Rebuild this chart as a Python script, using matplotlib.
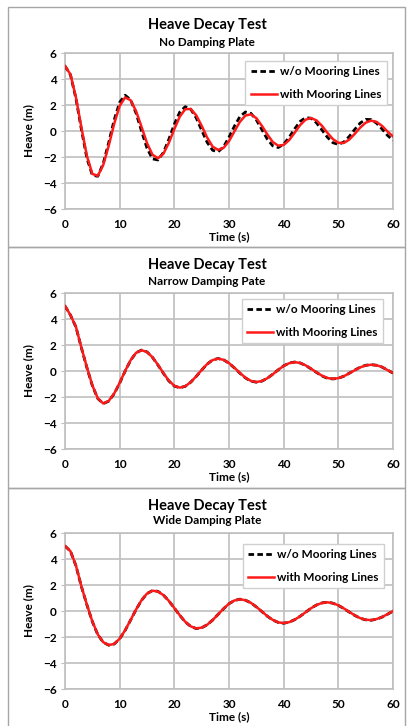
import matplotlib
matplotlib.use("Agg")
import matplotlib.pyplot as plt
from matplotlib.patches import Rectangle

plt.rcParams['font.family'] = ['Lato', 'DejaVu Sans']
plt.rcParams['font.weight'] = 'bold'

# time axis, one sample per second
time_s = list(range(0, 61))

# No damping plate
no_plate_free = [5.00, 4.32, 2.50, 0.12, -2.08, -3.40, -3.48, -2.48, -0.89, 0.86,
                 2.21, 2.75, 2.40, 1.37, -0.01, -1.32, -2.14, -2.23, -1.66, -0.64,
                 0.52, 1.46, 1.87, 1.68, 1.01, 0.06, -0.87, -1.48, -1.60, -1.22,
                 -0.48, 0.38, 1.11, 1.46, 1.36, 0.86, 0.12, -0.62, -1.14, -1.27,
                 -1.02, -0.49, 0.16, 0.73, 1.03, 0.98, 0.63, 0.08, -0.48, -0.90,
                 -1.03, -0.85, -0.42, 0.12, 0.61, 0.89, 0.88, 0.60, 0.15, -0.34,
                 -0.71]
no_plate_moored = [5.00, 4.35, 2.59, 0.27, -1.90, -3.30, -3.45, -2.61, -1.13, 0.56,
                   1.93, 2.58, 2.37, 1.53, 0.32, -0.93, -1.82, -2.10, -1.75, -0.91,
                   0.15, 1.11, 1.68, 1.69, 1.21, 0.40, -0.50, -1.20, -1.45, -1.30,
                   -0.78, -0.02, 0.71, 1.19, 1.28, 0.99, 0.41, -0.26, -0.84, -1.13,
                   -1.07, -0.70, -0.14, 0.45, 0.87, 1.00, 0.82, 0.40, -0.14, -0.62,
                   -0.91, -0.92, -0.66, -0.22, 0.26, 0.64, 0.80, 0.70, 0.39, -0.04,
                   -0.42]

# Narrow damping plate
narrow_free = [5.00, 4.30, 3.38, 1.78, 0.26, -1.13, -2.12, -2.51, -2.32, -1.75,
               -0.93, -0.01, 0.82, 1.40, 1.61, 1.47, 1.05, 0.46, -0.18, -0.77,
               -1.16, -1.29, -1.18, -0.86, -0.42, 0.07, 0.53, 0.85, 0.96, 0.86,
               0.60, 0.23, -0.17, -0.53, -0.78, -0.86, -0.78, -0.56, -0.25, 0.09,
               0.40, 0.61, 0.69, 0.62, 0.43, 0.17, -0.11, -0.38, -0.56, -0.61,
               -0.56, -0.40, -0.17, 0.07, 0.29, 0.44, 0.49, 0.44, 0.30, 0.07,
               -0.16]
narrow_moored = [5.00, 4.30, 3.40, 1.80, 0.30, -1.10, -2.10, -2.50, -2.30, -1.73,
                 -0.91, 0.01, 0.83, 1.40, 1.60, 1.46, 1.06, 0.48, -0.16, -0.74,
                 -1.14, -1.28, -1.17, -0.86, -0.41, 0.08, 0.53, 0.84, 0.95, 0.86,
                 0.61, 0.25, -0.15, -0.51, -0.76, -0.85, -0.77, -0.56, -0.26, 0.09,
                 0.39, 0.60, 0.68, 0.62, 0.44, 0.18, -0.10, -0.36, -0.54, -0.60,
                 -0.55, -0.40, -0.18, 0.06, 0.28, 0.43, 0.48, 0.44, 0.31, 0.07,
                 -0.15]

# Wide damping plate
wide_free = [5.00, 4.60, 3.48, 1.88, 0.48, -0.82, -1.82, -2.41, -2.63, -2.54,
             -2.14, -1.49, -0.70, 0.11, 0.82, 1.34, 1.57, 1.51, 1.22, 0.78,
             0.22, -0.34, -0.84, -1.19, -1.35, -1.29, -1.06, -0.70, -0.26, 0.17,
             0.56, 0.81, 0.91, 0.83, 0.63, 0.31, -0.04, -0.40, -0.69, -0.88,
             -0.94, -0.86, -0.67, -0.41, -0.10, 0.21, 0.46, 0.62, 0.68, 0.60,
             0.43, 0.19, -0.08, -0.34, -0.56, -0.68, -0.71, -0.63, -0.47, -0.25,
             -0.01]
wide_moored = [5.00, 4.60, 3.50, 1.90, 0.50, -0.80, -1.80, -2.40, -2.62, -2.53,
               -2.13, -1.48, -0.69, 0.12, 0.83, 1.34, 1.56, 1.50, 1.22, 0.78,
               0.23, -0.33, -0.83, -1.18, -1.34, -1.28, -1.06, -0.70, -0.26, 0.18,
               0.56, 0.81, 0.90, 0.83, 0.63, 0.32, -0.03, -0.39, -0.68, -0.87,
               -0.93, -0.86, -0.67, -0.41, -0.10, 0.21, 0.46, 0.62, 0.67, 0.60,
               0.44, 0.20, -0.07, -0.33, -0.55, -0.67, -0.70, -0.62, -0.46, -0.24,
               0.00]

subtitles = ["No Damping Plate", "Narrow Damping Pate", "Wide Damping Plate"]
free_series = [no_plate_free, narrow_free, wide_free]
moored_series = [no_plate_moored, narrow_moored, wide_moored]
legend_anchor = [(0.982, 0.949), (0.970, 0.962), (0.973, 0.930)]

W, H = 408, 726
fig = plt.figure(figsize=(W / 100, H / 100), dpi=100)

grid_col = '#bfbfbf'
box_col = '#a6a6a6'

# panel frames (pixel rows of the borders)
for top, bot in [(7, 247), (247, 488), (488, 740)]:
    fig.patches.append(Rectangle((8 / W, 1 - bot / H), (405 - 8) / W, (bot - top) / H,
                                 transform=fig.transFigure, fill=False,
                                 edgecolor=box_col, linewidth=1.0, clip_on=False))

axes_top = [53, 293, 533]
title_y = [25, 265, 506]
sub_y = [42, 281, 521]

for i in range(3):
    top = axes_top[i]
    ax = fig.add_axes([65 / W, 1 - (top + 156) / H, 328 / W, 156 / H])
    ax.plot(time_s, free_series[i], color='black', lw=2.0, dashes=(2.0, 1.2),
            label='w/o Mooring Lines', zorder=3)
    ax.plot(time_s, moored_series[i], color='#ff1a1a', lw=1.8,
            label='with Mooring Lines', zorder=4)
    ax.set_xlim(0, 60)
    ax.set_ylim(-6, 6)
    ax.set_xticks(range(0, 61, 10))
    ax.set_yticks(range(-6, 7, 2))
    ax.grid(True, color=grid_col, lw=1.2)
    ax.set_axisbelow(True)
    for s in ax.spines.values():
        s.set_color(grid_col)
        s.set_linewidth(1.2)
    ax.tick_params(axis='x', length=0, pad=7, labelsize=8.5)
    ax.tick_params(axis='y', length=3, color=grid_col, pad=3, labelsize=8.5)
    ax.set_xlabel('Time (s)', fontsize=8.5, fontweight='bold', labelpad=1)
    ax.set_ylabel('Heave (m)', fontsize=8.5, fontweight='bold', labelpad=6)
    leg = ax.legend(loc='upper right', bbox_to_anchor=legend_anchor[i],
                    fontsize=8.5, frameon=True, fancybox=False, framealpha=1,
                    edgecolor='#d0d0d0', handlelength=2.2, handletextpad=0.3,
                    labelspacing=1.0, borderpad=0.45, borderaxespad=0)
    leg.get_frame().set_linewidth(1.0)

    fig.text(207 / W, 1 - title_y[i] / H, 'Heave Decay Test', ha='center',
             va='center', fontsize=10.5, fontweight='bold')
    fig.text(207 / W, 1 - sub_y[i] / H, subtitles[i], ha='center',
             va='center', fontsize=8.5, fontweight='bold')

fig.savefig('out.png', dpi=100, facecolor='white')
